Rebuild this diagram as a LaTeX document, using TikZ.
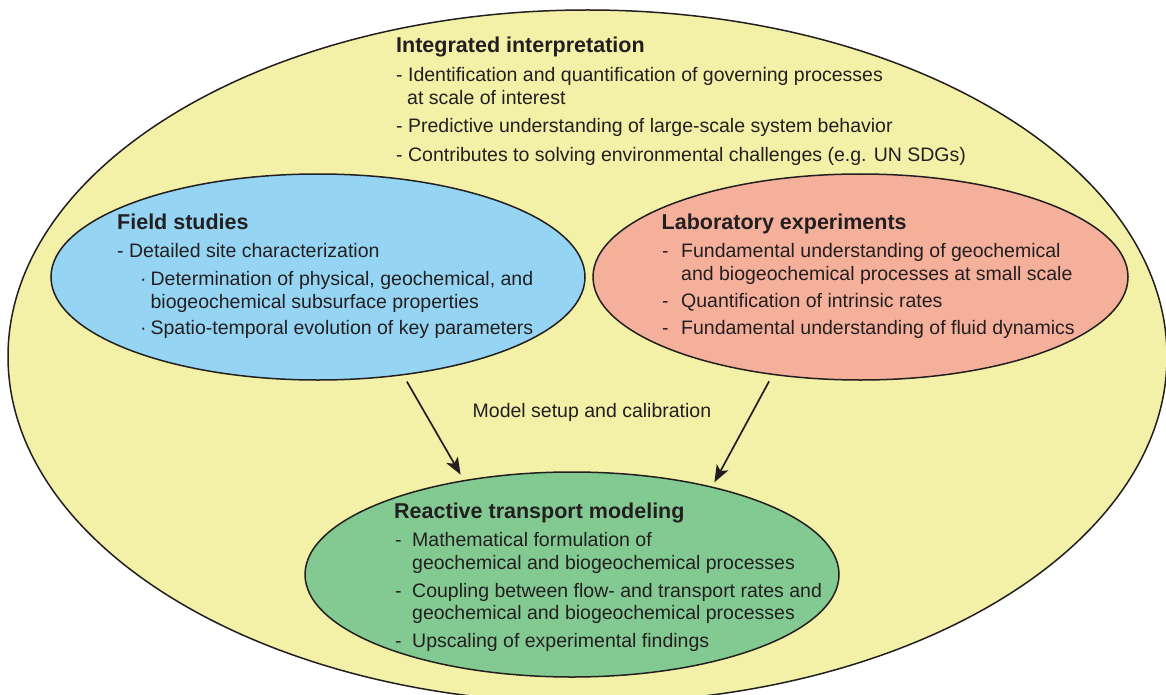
\documentclass[tikz,border=0pt]{standalone}
\usepackage{fontspec}
\setmainfont{Liberation Sans}
\usetikzlibrary{shapes.geometric,arrows.meta}

\definecolor{ink}{HTML}{231F20}
\definecolor{yellowbg}{HTML}{F3F0A7}
\definecolor{fieldblue}{HTML}{95D5F3}
\definecolor{labred}{HTML}{F4B09B}
\definecolor{rtmgreen}{HTML}{83C992}

\begin{document}
\begin{tikzpicture}[x=1pt,y=-1pt,
  blob/.style={ellipse, draw=ink, line width=1.5pt, inner sep=0pt, outer sep=0pt},
  ttl/.style={anchor=base west, inner sep=0pt, text=ink,
    font=\fontsize{21.5}{24}\selectfont\bfseries},
  txt/.style={anchor=base west, inner sep=0pt, text=ink,
    font=\fontsize{19.5}{23}\selectfont},
  flow/.style={-{Stealth[length=17pt,width=13pt,inset=4pt]}, line width=1.7pt, draw=ink}]

\useasboundingbox (0,0) rectangle (1166,695);
\clip (0,0) rectangle (1166,695);

% the four domains
\node[blob, fill=yellowbg, minimum width=1159pt, minimum height=693pt] (whole) at (587.5,356.5) {};
\node[blob, fill=fieldblue, minimum width=534pt, minimum height=206pt] (field) at (318,277) {};
\node[blob, fill=labred, minimum width=535pt, minimum height=206pt] (lab) at (860.5,277) {};
\node[blob, fill=rtmgreen, minimum width=534pt, minimum height=205pt] (rtm) at (572,574.5) {};

% integrated interpretation
\node[ttl] (iTitle) at (396,53) {Integrated interpretation};
\node[txt] (iA) at (396,82) {- Identification and quantification of governing processes};
\node[txt] (iA2) at (407,105) {at scale of interest};
\node[txt] (iB) at (396,133) {- Predictive understanding of large-scale system behavior};
\node[txt] (iC) at (396,161) {- Contributes to solving environmental challenges (e.g. UN SDGs)};

% field studies
\node[ttl] (fTitle) at (117,229) {Field studies};
\node[txt] (fA) at (117,257) {- Detailed site characterization};
\node[txt] (fB) at (140,285) {\makebox[10.4pt][l]{·}Determination of physical, geochemical, and};
\node[txt] (fB2) at (150.4,308) {biogeochemical subsurface properties};
\node[txt] (fC) at (140,334) {\makebox[10.4pt][l]{·}Spatio-temporal evolution of key parameters};

% laboratory experiments
\node[ttl] (lTitle) at (661.5,229) {Laboratory experiments};
\node[txt] (lA) at (662,257) {\makebox[19pt][l]{-}Fundamental understanding of geochemical};
\node[txt] (lA2) at (681,280) {and biogeochemical processes at small scale};
\node[txt] (lB) at (662,307) {\makebox[19pt][l]{-}Quantification of intrinsic rates};
\node[txt] (lC) at (662,334) {\makebox[19pt][l]{-}Fundamental understanding of fluid dynamics};

% reactive transport modeling
\node[ttl] (rTitle) at (394,518) {Reactive transport modeling};
\node[txt] (rA) at (395,546) {\makebox[17pt][l]{-}Mathematical formulation of};
\node[txt] (rA2) at (412,569) {geochemical and biogeochemical processes};
\node[txt] (rB) at (395,597) {\makebox[17pt][l]{-}Coupling between flow- and transport rates and};
\node[txt] (rB2) at (412,619) {geochemical and biogeochemical processes};
\node[txt] (rC) at (395,647) {\makebox[17pt][l]{-}Upscaling of experimental findings};

% model setup arrows
\node[txt] (setup) at (472.5,417) {Model setup and calibration};
\draw[flow, shorten <=8pt, shorten >=7pt] (field.-49.5) -- (rtm.139.8);
\draw[flow, shorten <=8pt, shorten >=5.5pt] (lab.-132.8) -- (rtm.32.2);
\end{tikzpicture}
\end{document}
